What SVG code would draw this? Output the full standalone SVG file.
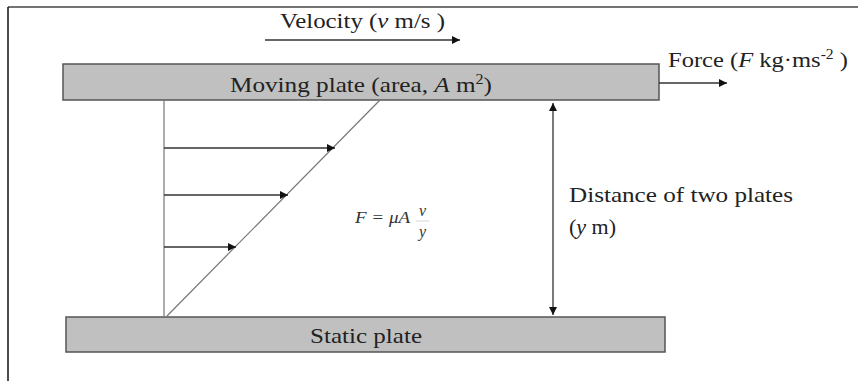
<svg xmlns="http://www.w3.org/2000/svg" width="858" height="381" viewBox="0 0 858 381">
<defs>
<style>
.t{font-family:"Liberation Serif","Times New Roman",serif;font-size:22px;fill:#222}
.plate{fill:#c0c0c0;stroke:#555;stroke-width:1.5}
.ln{stroke:#333;stroke-width:1.3;fill:none}
.thin{stroke:#777;stroke-width:1.2;fill:none}
.f{font-family:"Liberation Serif","Times New Roman",serif;font-size:16px;font-style:italic;fill:#333}
</style>
<marker id="ah" viewBox="0 0 10 10" refX="10" refY="5" markerWidth="10" markerHeight="8" markerUnits="userSpaceOnUse" orient="auto-start-reverse">
<path d="M0,0 L10,5 L0,10 z" fill="#111"/>
</marker>
</defs>
<rect width="858" height="381" fill="#fff"/>
<g id="frame">
<line x1="8" y1="7" x2="858" y2="7" stroke="#444" stroke-width="1.5"/>
<line x1="8" y1="7" x2="8" y2="381" stroke="#111" stroke-width="1.5"/>
</g>
<g id="moving-plate">
<rect class="plate" x="63" y="64" width="596" height="36"/>
<text class="t" x="230" y="92" textLength="262" lengthAdjust="spacingAndGlyphs">Moving plate (area, <tspan font-style="italic">A</tspan> m<tspan font-size="14" dy="-8">2</tspan><tspan dy="8">)</tspan></text>
</g>
<g id="static-plate">
<rect class="plate" x="66" y="317" width="599" height="35"/>
<text class="t" x="310" y="343" textLength="112" lengthAdjust="spacingAndGlyphs">Static plate</text>
</g>
<g id="velocity-label">
<text class="t" x="280" y="28" textLength="165" lengthAdjust="spacingAndGlyphs">Velocity (<tspan font-style="italic">v</tspan> m/s )</text>
</g>
<g id="force-label">
<text class="t" x="668" y="67" textLength="180" lengthAdjust="spacingAndGlyphs">Force (<tspan font-style="italic">F</tspan> kg·ms<tspan font-size="14" dy="-8">-2</tspan><tspan dy="8"> )</tspan></text>
</g>
<g id="distance-label">
<text class="t" x="569" y="202" textLength="224" lengthAdjust="spacingAndGlyphs">Distance of two plates</text>
<text class="t" x="569" y="234">(<tspan font-style="italic">y</tspan> m)</text>
</g>
<g id="formula">
<text class="f" x="355" y="223" textLength="55" lengthAdjust="spacingAndGlyphs">F = μA</text>
<text class="f" x="419" y="216">v</text>
<line x1="416" y1="221" x2="429" y2="221" stroke="#ccc" stroke-width="0.8"/>
<text class="f" x="419" y="237">y</text>
</g>
<g id="connectors">
<line class="ln" x1="265" y1="40" x2="460" y2="40" marker-end="url(#ah)"/>
<line class="ln" x1="659" y1="83" x2="727" y2="83" marker-end="url(#ah)"/>
<line class="ln" x1="553" y1="103" x2="553" y2="315" marker-start="url(#ah)" marker-end="url(#ah)"/>
<line class="thin" x1="164" y1="100" x2="164" y2="317"/>
<line class="thin" x1="167" y1="316" x2="380" y2="100"/>
<line class="ln" x1="164" y1="148" x2="335" y2="148" marker-end="url(#ah)"/>
<line class="ln" x1="164" y1="195" x2="288" y2="195" marker-end="url(#ah)"/>
<line class="ln" x1="164" y1="247" x2="236" y2="247" marker-end="url(#ah)"/>
</g>
</svg>
